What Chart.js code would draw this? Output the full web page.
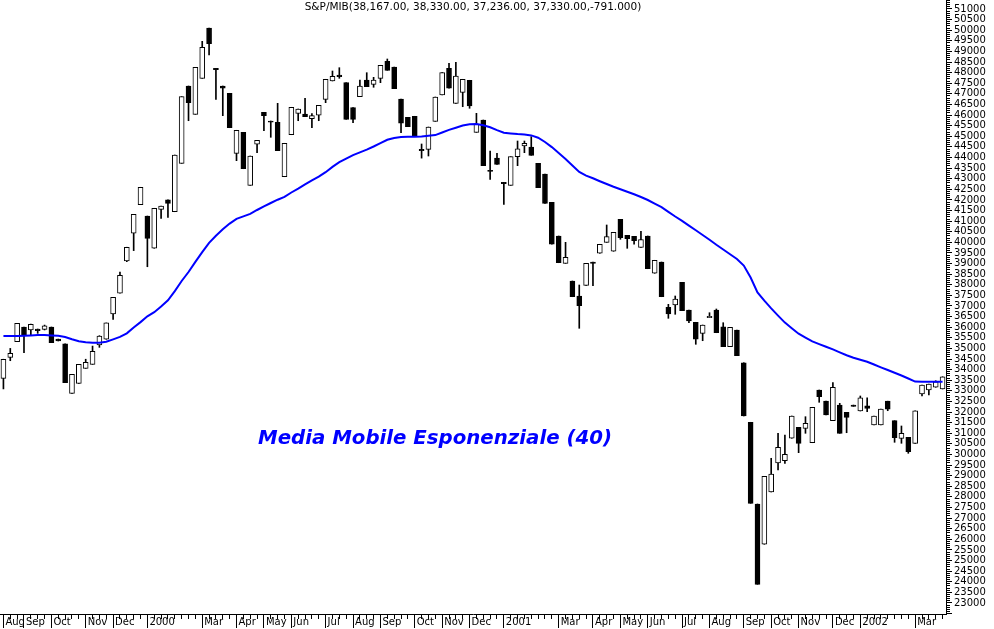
<!DOCTYPE html>
<html>
<head>
<meta charset="utf-8">
<script src="https://cdn.jsdelivr.net/npm/chart.js@4.4.1/dist/chart.umd.min.js"></script>
<style>
  html, body { margin: 0; padding: 0; background: #fff; }
  #wrap { width: 994px; height: 629px; }
</style>
</head>
<body>
<div id="wrap"><canvas id="chart" width="994" height="629"></canvas></div>
<script>
// weekly S&P/MIB candles, Aug 1999 - Mar 2002, with 40-week EMA
const title = 'S&P/MIB(38,167.00, 38,330.00, 37,236.00, 37,330.00,-791.000)';
const emaLabel = 'Media Mobile Esponenziale (40)';

const monthNames = ['Aug','Sep','Oct','Nov','Dec','2000','Mar','Apr','May','Jun','Jul','Aug','Sep','Oct','Nov','Dec',
  '2001','Mar','Apr','May','Jun','Jul','Aug','Sep','Oct','Nov','Dec','2002','Mar'];
const monthStarts = [0,3,7,12,16,21,29,34,38,42,47,51,55,60,64,68,73,81,86,90,94,99,103,108,112,116,121,125,133];

const opens = [
  33590,34580,35320,36010,35870,35915,35900,36010,35440,35210,
  32880,33355,34060,34250,35160,35430,36620,37600,39130,40430,
  41775,41240,39720,41557,42000,41444,43726,47370,46036,47733,
  50104,48204,47370,47026,44197,45187,42689,44622,46130,45720,
  45659,43094,45074,46083,46050,45828,45989,46743,47606,47888,
  47526,46347,46866,47653,47450,47733,48534,48266,46757,45895,
  45942,44380,44386,45706,46946,48204,46554,47073,47639,45187,
  45767,43400,43976,42830,42689,44037,44541,44494,43726,43222,
  41888,40299,39012,38178,37471,37975,39070,39484,40002,39578,
  41086,40332,40285,39766,40299,38541,39073,36938,37046,38116,
  36811,36231,35712,36450,36811,36023,35081,35868,34326,31517,
  27666,25766,28231,29598,29707,30763,31281,31234,30555,33039,
  32512,31592,32332,31988,32330,32049,32299,31390,31390,32512,
  31592,30762,30809,30527,32851,33039,33167,33087
];
const highs = [
  34490,35000,36180,36010,36150,35915,36100,36010,35440,35210,
  33780,34250,34490,35110,35600,36200,37410,38600,39770,41320,
  42595,41240,41605,41713,42000,44117,46866,47370,48251,49477,
  50104,48204,47370,47026,45282,45187,44070,44810,46130,45720,
  46554,44669,46366,46286,46790,46064,46460,47686,48077,48233,
  47526,46347,47653,47997,47780,48346,48643,48266,46757,45895,
  45942,44636,45437,46851,47997,48440,48487,47686,47639,46083,
  45767,44306,44197,42830,44037,44777,44777,44980,43726,43222,
  41888,40299,40002,38178,37989,39012,39070,39908,40818,40473,
  41086,40332,40285,40521,40299,39154,39073,37079,37471,38116,
  36811,36231,36103,36683,36858,36212,35995,35868,34326,31517,
  27666,28971,29820,31000,30918,31814,31281,31781,32224,33039,
  32512,33384,32412,31988,32330,32757,32672,31814,32144,32512,
  31592,31343,30809,32063,33275,33322,33477,33666
];
const lows = [
  33090,34420,35320,34800,35630,35710,35870,35270,35350,33380,
  32880,33355,34060,34250,35050,35430,36370,37600,39090,39610,
  41775,38850,39720,41130,41180,41444,43726,45734,46036,47733,
  48831,46743,45970,45404,43849,43471,42689,44226,45263,44952,
  44320,43094,45074,45734,45923,45404,45734,46583,47606,47733,
  45800,45640,46866,47337,47310,47526,48110,47243,45169,45451,
  45013,43970,44070,45706,46946,47262,46554,46394,46319,45187,
  43613,42972,43679,41793,42689,43613,44226,44103,42576,41840,
  39908,39040,39012,37437,35948,37975,37956,39484,40002,39578,
  40144,39719,39908,39766,38757,38541,37437,36419,36608,36778,
  36212,35194,35363,36450,35740,35081,35081,34656,31814,27698,
  23880,25766,28231,29268,29584,30763,30084,30998,30555,32460,
  31861,31592,30998,31026,32270,32049,32016,31390,31390,32063,
  30574,30527,30055,30527,32757,32804,33167,33087
];
const closes = [
  34490,34770,36180,35630,36140,35835,36060,35270,35350,33380,
  33780,34250,34345,34860,35585,36200,37410,38450,39770,41320,
  42595,40190,41605,41713,41840,44117,46866,46583,48251,49194,
  49364,48138,47262,45404,45282,43471,44070,44810,45970,45670,
  44320,44669,46366,46286,45923,45970,46460,47686,47827,47808,
  45800,45800,47370,47337,47653,48346,48110,47243,45612,45451,
  45013,44320,45437,46851,47997,47262,47841,47686,46427,45579,
  43613,43340,43679,42770,44037,44414,44669,44103,42576,41840,
  39908,39040,39295,37437,37013,39012,39010,39908,40266,40473,
  40219,40172,40078,40125,38757,39154,37437,36622,37329,36778,
  36293,35430,36103,36510,35740,35081,35995,34656,31814,27698,
  23880,28971,29080,30339,30008,31814,30527,31470,32224,32724,
  31861,33167,30998,31752,32270,32672,32176,31814,32144,32130,
  30791,30998,30130,32063,33275,33322,33430,33666
];
const ema40 = [
  35585,35585,35585,35599,35613,35627,35627,35613,35599,35538,
  35429,35335,35292,35269,35269,35311,35425,35542,35712,35986,
  36240,36514,36707,36971,37268,37702,38178,38602,39078,39540,
  39974,40308,40615,40884,41105,41223,41341,41525,41694,41855,
  42010,42142,42350,42529,42731,42920,43094,43307,43557,43778,
  43948,44113,44240,44372,44518,44678,44834,44919,44961,44975,
  44980,44989,45022,45055,45178,45301,45404,45508,45569,45579,
  45517,45423,45291,45168,45135,45102,45079,45041,44933,44730,
  44490,44216,43933,43627,43321,43146,43019,42882,42750,42623,
  42505,42387,42265,42137,41996,41822,41657,41435,41218,41015,
  40789,40568,40346,40120,39884,39663,39436,39219,38908,38343,
  37640,37249,36886,36547,36217,35953,35693,35510,35335,35203,
  35076,34953,34816,34680,34562,34468,34369,34241,34109,33982,
  33855,33723,33581,33435,33431,33431,33431,33431
];

const yMin = 22480, yMax = 51424;
const yLabelFrom = 23000;

const labels = opens.map((_, i) => {
  const k = monthStarts.indexOf(i);
  return k >= 0 ? monthNames[k] : '';
});

const font = { family: '"DejaVu Sans", sans-serif', size: 10 };

const textPlugin = {
  id: 'texts',
  afterDraw(chart) {
    const ctx = chart.ctx;
    ctx.save();
    ctx.textAlign = 'center';
    ctx.textBaseline = 'middle';

    ctx.fillStyle = '#000';
    ctx.font = '10px "DejaVu Sans"';
    let w = ctx.measureText(title).width;
    ctx.font = (10 * 337 / w).toFixed(2) + 'px "DejaVu Sans"';
    ctx.fillText(title, 473, 7);

    ctx.fillStyle = '#0000ff';
    ctx.font = 'italic bold 18px "DejaVu Sans"';
    w = ctx.measureText(emaLabel).width;
    ctx.font = 'italic bold ' + (18 * 354 / w).toFixed(2) + 'px "DejaVu Sans"';
    ctx.fillText(emaLabel, 435, 439);
    ctx.restore();
  }
};

new Chart(document.getElementById('chart'), {
  type: 'bar',
  data: {
    labels: labels,
    datasets: [
      {
        type: 'line',
        label: 'EMA 40',
        data: ema40,
        borderColor: '#0000ff',
        borderWidth: 2,
        pointRadius: 0,
        tension: 0,
        order: 0
      },
      {
        label: 'Body',
        data: opens.map((o, i) => [o, closes[i]]),
        backgroundColor: opens.map((o, i) => closes[i] >= o ? '#ffffff' : '#000000'),
        borderColor: '#000000',
        borderWidth: 1,
        borderSkipped: false,
        barThickness: 5,
        grouped: false,
        order: 1
      },
      {
        label: 'Range',
        data: lows.map((l, i) => [l, highs[i]]),
        backgroundColor: '#000000',
        borderWidth: 0,
        barThickness: 1,
        grouped: false,
        order: 2
      }
    ]
  },
  options: {
    responsive: false,
    animation: false,
    devicePixelRatio: 1,
    layout: { padding: 0 },
    plugins: {
      legend: { display: false },
      tooltip: { enabled: false },
      title: { display: false }
    },
    scales: {
      x: {
        offset: true,
        border: { display: true, color: '#000', width: 1 },
        grid: {
          offset: false,
          drawOnChartArea: false,
          color: '#000',
          tickLength: 14,
          tickBorderDash: ctx => monthStarts.includes(ctx.index) ? [] : [4, 40]
        },
        ticks: {
          autoSkip: false,
          maxRotation: 0,
          minRotation: 0,
          align: 'start',
          padding: -12,
          labelOffset: 2,
          color: '#000',
          font: font
        },
        afterFit: s => { s.height = 15; s.paddingLeft = 0; s.paddingRight = 0; }
      },
      y: {
        position: 'right',
        min: yMin,
        max: yMax,
        border: { display: true, color: '#000', width: 1 },
        grid: {
          drawOnChartArea: false,
          color: '#000',
          tickLength: 6,
          tickBorderDash: ctx => ctx.tick && ctx.tick.value % 500 === 0 ? [] : [3, 20]
        },
        ticks: {
          stepSize: 100,
          includeBounds: false,
          autoSkip: false,
          padding: 2,
          color: '#000',
          font: font,
          callback: v => (v % 500 === 0 && v >= yLabelFrom) ? v : ''
        },
        afterFit: s => { s.width = 48; s.paddingTop = 0; s.paddingBottom = 0; }
      }
    }
  },
  plugins: [textPlugin]
});
</script>
</body>
</html>
